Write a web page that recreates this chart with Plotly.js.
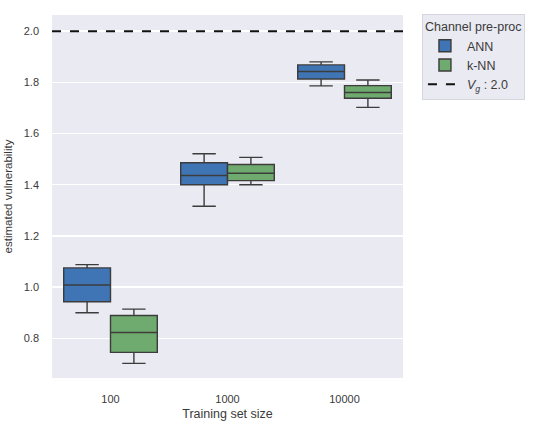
<!DOCTYPE html>
<html>
<head>
<meta charset="utf-8">
<script src="https://cdn.plot.ly/plotly-3.0.1.min.js"></script>
<style>
  html, body { margin: 0; padding: 0; background: #ffffff; }
  #chart { width: 551px; height: 421px; }
</style>
</head>
<body>
<div id="chart"></div>
<script>
// Training set sizes (categorical x axis)
const sizes = ['100', '1000', '10000'];

// ANN box statistics per training set size
const annLower  = [0.900, 1.316, 1.786];
const annQ1     = [0.943, 1.400, 1.813];
const annMedian = [1.008, 1.436, 1.842];
const annQ3     = [1.075, 1.486, 1.868];
const annUpper  = [1.088, 1.521, 1.880];

// k-NN box statistics per training set size
const knnLower  = [0.702, 1.400, 1.702];
const knnQ1     = [0.745, 1.416, 1.738];
const knnMedian = [0.823, 1.445, 1.760];
const knnQ3     = [0.889, 1.479, 1.787];
const knnUpper  = [0.914, 1.507, 1.809];

// Reference vulnerability level
const vg = 2.0;

const edge = '#3c3c3c';

const traces = [
  {
    type: 'box', name: 'ANN', x: sizes,
    q1: annQ1, median: annMedian, q3: annQ3,
    lowerfence: annLower, upperfence: annUpper,
    fillcolor: '#3f74b5',
    line: { color: edge, width: 1.4 },
    whiskerwidth: 0.5, boxpoints: false, hoverinfo: 'skip'
  },
  {
    type: 'box', name: 'k-NN', x: sizes,
    q1: knnQ1, median: knnMedian, q3: knnQ3,
    lowerfence: knnLower, upperfence: knnUpper,
    fillcolor: '#6faa6e',
    line: { color: edge, width: 1.4 },
    whiskerwidth: 0.5, boxpoints: false, hoverinfo: 'skip'
  }
];

const layout = {
  width: 551, height: 421,
  margin: { l: 52, r: 148, t: 15, b: 43 },
  paper_bgcolor: '#ffffff',
  plot_bgcolor: '#eaeaf2',
  font: { family: 'Liberation Sans, Arial, sans-serif', size: 11, color: '#3a3a3a' },
  boxmode: 'group', boxgap: 0.2, boxgroupgap: 0,
  showlegend: true,
  legend: {
    x: 1.054, xanchor: 'left', y: 1.003, yanchor: 'top',
    bgcolor: '#eaeaf2', bordercolor: '#d6d6de', borderwidth: 1,
    font: { size: 12.5, color: '#3a3a3a' },
    title: { text: 'Channel pre-proc', font: { size: 12.5, color: '#3a3a3a' } },
    tracegroupgap: 4, itemwidth: 34
  },
  xaxis: {
    type: 'category',
    showgrid: false, zeroline: false, showline: false,
    ticks: '', ticklabelstandoff: 13,
    tickfont: { size: 11, color: '#3a3a3a' },
    title: { text: 'Training set size', font: { size: 12.5, color: '#3a3a3a' }, standoff: 12 }
  },
  yaxis: {
    range: [0.645, 2.063],
    tickvals: [0.8, 1.0, 1.2, 1.4, 1.6, 1.8, 2.0],
    ticktext: ['0.8', '1.0', '1.2', '1.4', '1.6', '1.8', '2.0'],
    showgrid: true, gridcolor: '#ffffff', gridwidth: 1.3,
    zeroline: false, showline: false,
    ticks: '', ticklabelstandoff: 12,
    tickfont: { size: 11, color: '#3a3a3a' },
    title: { text: 'estimated vulnerability', font: { size: 11.5, color: '#3a3a3a' }, standoff: 8 }
  },
  shapes: [
    {
      type: 'line', xref: 'paper', x0: 0, x1: 1, yref: 'y', y0: vg, y1: vg,
      line: { color: '#111111', width: 2, dash: 'dash' },
      showlegend: true, name: '<i>V</i><sub><i>g</i></sub> : ' + vg.toFixed(1),
      layer: 'above'
    }
  ]
};

Plotly.newPlot('chart', traces, layout, { displayModeBar: false, staticPlot: true });
</script>
</body>
</html>
